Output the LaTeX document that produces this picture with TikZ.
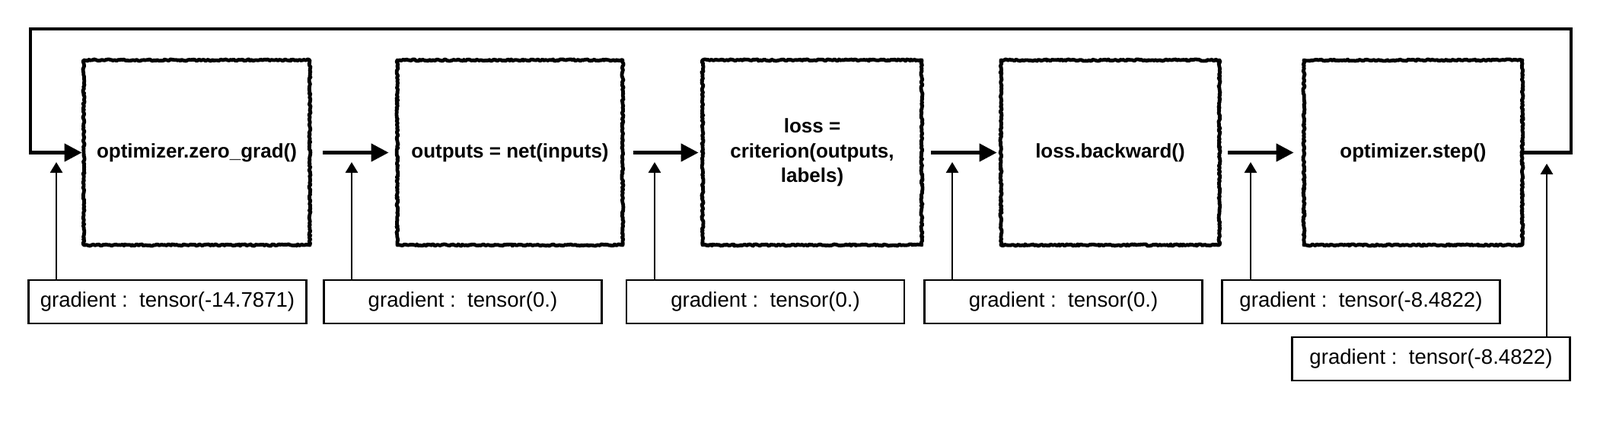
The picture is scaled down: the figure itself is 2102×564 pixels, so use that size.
\documentclass[tikz,border=0pt]{standalone}
\usepackage{fontspec}
\setmainfont{Liberation Sans}
\usetikzlibrary{positioning,arrows.meta,decorations.pathmorphing}

\begin{document}
\begin{tikzpicture}[x=0.5pt,y=-0.5pt,
    stepbox/.style={draw,line width=2.4pt,line join=round,minimum height=121.5pt,align=center,
      font=\bfseries\fontsize{13}{16.25}\selectfont,
      decorate,decoration={random steps,segment length=1pt,amplitude=0.55pt}},
    gradbox/.style={draw,line width=1.4pt,minimum width=182.5pt,minimum height=28.5pt,
      font=\fontsize{13.8}{16}\selectfont},
    flow/.style={line width=2.3pt,-{Triangle[length=11.5pt,width=11.5pt]}},
    up/.style={line width=1.35pt,-{Triangle[length=7pt,width=8pt]}}]
    \useasboundingbox (0,0) rectangle (2102,564);
    % training steps
    \node (b1) [stepbox,minimum width=148.5pt] at (258.5,200.5) {optimizer.zero\_grad()};
    \node (b2) [stepbox,minimum width=148pt]   at (670,200.5)   {outputs = net(inputs)};
    \node (b3) [stepbox,minimum width=144pt]   at (1067,200.5)  {loss =\\criterion(outputs,\\labels)};
    \node (b4) [stepbox,minimum width=143.5pt] at (1458.5,200.5) {loss.backward()};
    \node (b5) [stepbox,minimum width=143.5pt] at (1856.5,200.5) {optimizer.step()};
    % gradient values
    \node (g1) [gradbox] at (220,396.5)  {gradient :\ \ tensor(-14.7871)};
    \node (g2) [gradbox] at (608,396.5)  {gradient :\ \ tensor(0.)};
    \node (g3) [gradbox] at (1005.5,396.5) {gradient :\ \ tensor(0.)};
    \node (g4) [gradbox] at (1397,396.5) {gradient :\ \ tensor(0.)};
    \node (g5) [gradbox] at (1788,396.5) {gradient :\ \ tensor(-8.4822)};
    \node (g6) [gradbox] at (1880,471.5) {gradient :\ \ tensor(-8.4822)};
    \coordinate (t1) at (74,213);
    \coordinate (t2) at (462,213);
    \coordinate (t3) at (860,213);
    \coordinate (t4) at (1251,213);
    \coordinate (t5) at (1643,213);
    \coordinate (t6) at (2032,215);
    \coordinate (lr) at (2064,38);
    \coordinate (ll) at (40,38);
    \foreach \a/\b/\s/\e in {b1/b2/7.5/4.5,b2/b3/6/1.5,b3/b4/5/1.5,b4/b5/4.5/5.5}
      \draw [flow,shorten <=\s pt,shorten >=\e pt] (\a) -- (\b);
    \draw [flow] (b5) -- (b5 -| lr) -- (lr) -- (ll) -- (ll |- b1) -- (b1);
    \foreach \i in {1,...,6}
      \draw [up] (g\i.north -| t\i) -- (t\i);
\end{tikzpicture}
\end{document}
